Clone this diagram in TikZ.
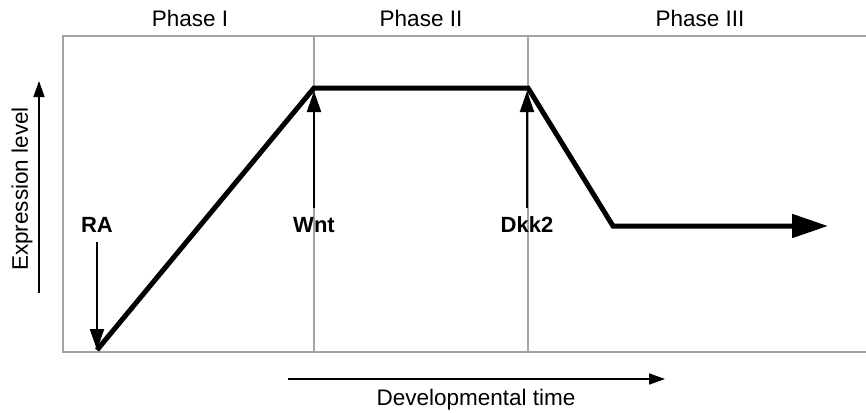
\documentclass[tikz,border=0pt]{standalone}
\usepackage{fontspec}
\setmainfont{Liberation Sans}
\usetikzlibrary{arrows.meta}
\definecolor{framegray}{HTML}{A4A4A4}
\tikzset{
  frameline/.style={draw=framegray, line width=1.6pt},
  curveline/.style={draw=black, line width=5pt, line join=miter},
  thinarrow/.style={draw=black, line width=2pt, -{Triangle[length=21pt,width=14pt]}},
  axisarrow/.style={draw=black, line width=1.6pt, -{Triangle[length=16pt,width=11pt]}},
  phaselabel/.style={font=\fontsize{22.5}{26}\selectfont, inner sep=0pt},
  siglabel/.style={font=\fontsize{22}{26}\selectfont\bfseries, inner sep=0pt, outer sep=9pt},
  axislabel/.style={font=\fontsize{22.5}{26}\selectfont, inner sep=0pt}
}
\begin{document}
\begin{tikzpicture}[x=1pt,y=-1pt]
\useasboundingbox (0,0) rectangle (866,412);
% frame
\coordinate (ftl) at (63,36);
\coordinate (fbl) at (63,352);
\coordinate (ftr) at (866,36);
\coordinate (fbr) at (866,352);
\coordinate (v1t) at (314,36);
\coordinate (v1b) at (314,352);
\coordinate (v2t) at (528,36);
\coordinate (v2b) at (528,352);
\draw[frameline] (ftr) -- (ftl) -- (fbl) -- (fbr);
\draw[frameline] (v1t) -- (v1b);
\draw[frameline] (v2t) -- (v2b);
% phase labels
\node[phaselabel] (ph1) at (190,18) {Phase I};
\node[phaselabel] (ph2) at (421,18) {Phase II};
\node[phaselabel] (ph3) at (700,18) {Phase III};
% curve
\coordinate (p0) at (97,350);
\coordinate (p1) at (314,88);
\coordinate (p2) at (528,88);
\coordinate (p3) at (613,226);
\coordinate (p4) at (828,226);
\draw[curveline] (p0) -- (p1) -- (p2) -- (p3) -- ([xshift=-20pt]p4);
\draw[black, line width=5pt, -{Triangle[length=36pt,width=23pt]}] ([xshift=-22pt]p4) -- (p4);
% signal labels and arrows
\node[siglabel] (ra) at (97,225) {RA};
\node[siglabel] (wnt) at (314,225) {Wnt};
\node[siglabel] (dkk) at (527,225) {Dkk2};
\coordinate (wntTip) at (314,91);
\coordinate (dkkTip) at (527,91);
\draw[thinarrow] (ra.south) -- (p0);
\draw[thinarrow] (wnt.north) -- (wntTip);
\draw[thinarrow] (dkk.north) -- (dkkTip);
% axes
\coordinate (yaS) at (39,293);
\coordinate (yaE) at (39,81);
\draw[axisarrow] (yaS) -- (yaE);
\node[axislabel, rotate=90] (ylab) at (22,189) {Expression level};
\coordinate (xaS) at (288,379);
\coordinate (xaE) at (665,379);
\draw[axisarrow] (xaS) -- (xaE);
\node[axislabel] (xlab) at (476,400) {Developmental time};
\end{tikzpicture}
\end{document}
